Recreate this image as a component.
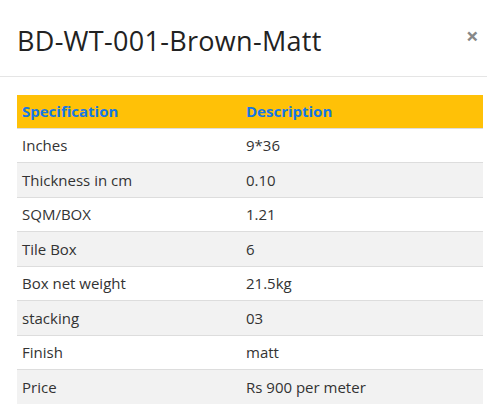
import React from "react";

const specs = ["Inches", "Thickness in cm", "SQM/BOX", "Tile Box", "Box net weight", "stacking", "Finish", "Price"];
const descriptions = ["9*36", "0.10", "1.21", "6", "21.5kg", "03", "matt", "Rs 900 per meter"];
const headers = ["Specification", "Description"];
const title = "BD-WT-001-Brown-Matt";

export default function App() {
  const font = "'Open Sans', 'Noto Sans', sans-serif";
  return (
    <div style={{ position: "fixed", left: 0, top: 0, width: 487, height: 420, background: "#fff", fontFamily: font, color: "#333", overflow: "hidden" }}>
      <div style={{ position: "absolute", left: 17, top: 22, fontSize: 27, fontWeight: 500, color: "#222", letterSpacing: 0.3 }}>{title}</div>
      <div style={{ position: "absolute", left: 466, top: 20, fontSize: 22, fontWeight: 700, color: "#888" }}>×</div>
      <div style={{ position: "absolute", left: 0, top: 76, width: 487, borderTop: "1px solid #e5e5e5" }} />
      <table style={{ position: "absolute", left: 17, top: 95, width: 466, borderCollapse: "collapse", fontSize: 15 }}>
        <thead>
          <tr style={{ background: "#ffc107", height: 33 }}>
            {headers.map((h, i) => (
              <th key={h} style={{ textAlign: "left", color: "#1677e5", fontWeight: 700, padding: "0 0 0 5px", width: i === 0 ? 219 : undefined }}>{h}</th>
            ))}
          </tr>
        </thead>
        <tbody>
          {specs.map((s, i) => (
            <tr key={s} style={{ background: i % 2 === 0 ? "#fff" : "#f2f2f2", height: 34.5, borderTop: "1px solid #ddd" }}>
              <td style={{ padding: "0 0 0 5px" }}>{s}</td>
              <td style={{ padding: "0 0 0 5px" }}>{descriptions[i]}</td>
            </tr>
          ))}
        </tbody>
      </table>
    </div>
  );
}
